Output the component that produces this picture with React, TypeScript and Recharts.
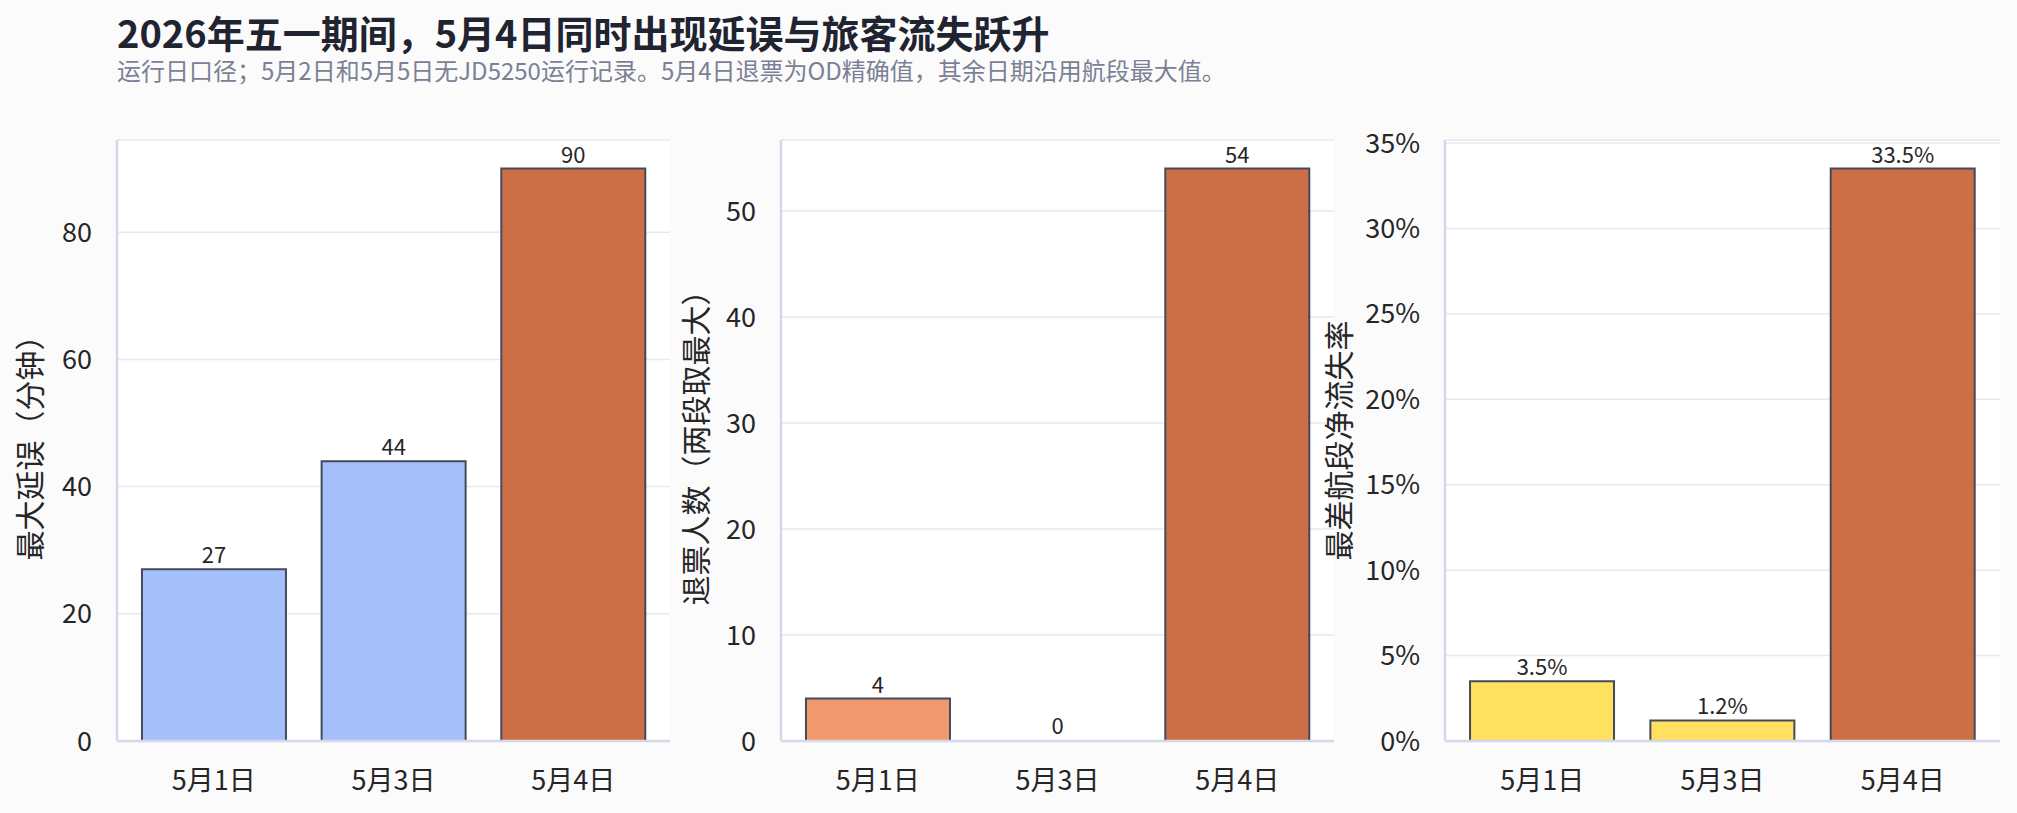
import React from 'react';
import { BarChart, Bar, XAxis, YAxis, CartesianGrid, Cell, LabelList, Label } from 'recharts';

const dates = ['5月1日', '5月3日', '5月4日'];
const maxDelayMin = [27, 44, 90];
const refundCount = [4, 0, 54];
const worstLossRate = [3.5, 1.2, 33.5];

const delayTicks = [0, 20, 40, 60, 80];
const refundTicks = [0, 10, 20, 30, 40, 50];
const lossTicks = [0, 5, 10, 15, 20, 25, 30, 35];

const TITLE = '2026年五一期间，5月4日同时出现延误与旅客流失跃升';
const SUBTITLE = '运行日口径；5月2日和5月5日无JD5250运行记录。5月4日退票为OD精确值，其余日期沿用航段最大值。';

const COLORS = {
  bg: '#fbfbfc',
  plot: '#ffffff',
  spine: '#d4d8e8',
  grid: '#e6e9f0',
  edge: '#434a5a',
  text: '#262626',
  title: '#1f2430',
  subtitle: '#7b8194',
  blue: '#a5bffa',
  hot: '#cc6f47',
  salmon: '#f0996e',
  yellow: '#ffe15f',
};

const FONT = '"Noto Sans CJK SC", "Noto Sans", sans-serif';

const W = 2017;
const H = 813;

function yTitle(text: string, cx: number) {
  return (props: any) => {
    const vb = props.viewBox;
    const cy = vb.y + vb.height / 2;
    return (
      <text
        x={cx}
        y={cy}
        transform={`rotate(-90 ${cx} ${cy})`}
        textAnchor="middle"
        dominantBaseline="central"
        fontSize={30}
        fontFamily={FONT}
        fill={COLORS.text}
      >
        {text}
      </text>
    );
  };
}

type PanelProps = {
  values: number[];
  colors: string[];
  ticks: number[];
  yLabel: string;
  left: number;
  width: number;
  plotRight: number;
  axisWidth: number;
  labelX: number;
  pct?: boolean;
};

function Panel({ values, colors, ticks, yLabel, left, width, plotRight, axisWidth, labelX, pct }: PanelProps) {
  const data = dates.map((d, i) => ({ date: d, value: values[i] }));
  const fmt = (v: any) => (pct ? `${v}%` : `${v}`);
  return (
    <div style={{ position: 'absolute', left, top: 100 }}>
      <BarChart
        width={width}
        height={713}
        data={data}
        margin={{ top: 40, right: left + width - plotRight, bottom: 0, left: 0 }}
        barCategoryGap="10%"
      >
        <CartesianGrid vertical={false} stroke={COLORS.grid} strokeWidth={1.5} fill={COLORS.plot} fillOpacity={1} />
        <XAxis
          dataKey="date"
          height={72}
          padding={{ left: 7, right: 7 }}
          tickLine={false}
          tickSize={0}
          tickMargin={30}
          axisLine={{ stroke: COLORS.spine, strokeWidth: 2.5 }}
          tick={{ fontSize: 27, fill: COLORS.text, fontFamily: FONT }}
        />
        <YAxis
          width={axisWidth}
          domain={[0, (max: number) => max * 1.05]}
          ticks={ticks}
          interval={0}
          tickLine={false}
          tickSize={0}
          tickMargin={25}
          tickFormatter={fmt}
          axisLine={{ stroke: COLORS.spine, strokeWidth: 2.5 }}
          tick={{ fontSize: 27, fill: COLORS.text, fontFamily: FONT }}
        >
          <Label content={yTitle(yLabel, labelX)} />
        </YAxis>
        <Bar dataKey="value" minPointSize={1} isAnimationActive={false}>
          {data.map((d) => (
            <Cell
              key={d.date}
              fill={d.value === 0 ? 'transparent' : colors[dates.indexOf(d.date)]}
              stroke={d.value === 0 ? 'none' : COLORS.edge}
              strokeWidth={2}
            />
          ))}
          <LabelList
            dataKey="value"
            position="top"
            offset={6}
            formatter={fmt}
            style={{ fontSize: 22, fill: COLORS.text, fontFamily: FONT }}
          />
        </Bar>
      </BarChart>
    </div>
  );
}

export default function App() {
  return (
    <div style={{ position: 'absolute', left: 0, top: 0, width: W, height: H, background: COLORS.bg, overflow: 'hidden' }}>
      <svg width={W} height={110} style={{ position: 'absolute', left: 0, top: 0 }}>
        <text x={117} y={48} fontSize={38} fontWeight={700} fontFamily={FONT} fill={COLORS.title}>
          {TITLE}
        </text>
        <text x={117} y={80} fontSize={24} fontFamily={FONT} fill={COLORS.subtitle}>
          {SUBTITLE}
        </text>
      </svg>
      <Panel
        values={maxDelayMin}
        colors={[COLORS.blue, COLORS.blue, COLORS.hot]}
        ticks={delayTicks}
        yLabel="最大延误（分钟）"
        left={0}
        width={690}
        plotRight={670}
        axisWidth={117}
        labelX={28}
      />
      <Panel
        values={refundCount}
        colors={[COLORS.salmon, COLORS.salmon, COLORS.hot]}
        ticks={refundTicks}
        yLabel="退票人数（两段取最大）"
        left={660}
        width={693}
        plotRight={1334}
        axisWidth={121}
        labelX={34}
      />
      <Panel
        values={worstLossRate}
        colors={[COLORS.yellow, COLORS.yellow, COLORS.hot]}
        ticks={lossTicks}
        yLabel="最差航段净流失率"
        left={1310}
        width={707}
        plotRight={2000}
        axisWidth={135}
        labelX={27}
        pct
      />
    </div>
  );
}
